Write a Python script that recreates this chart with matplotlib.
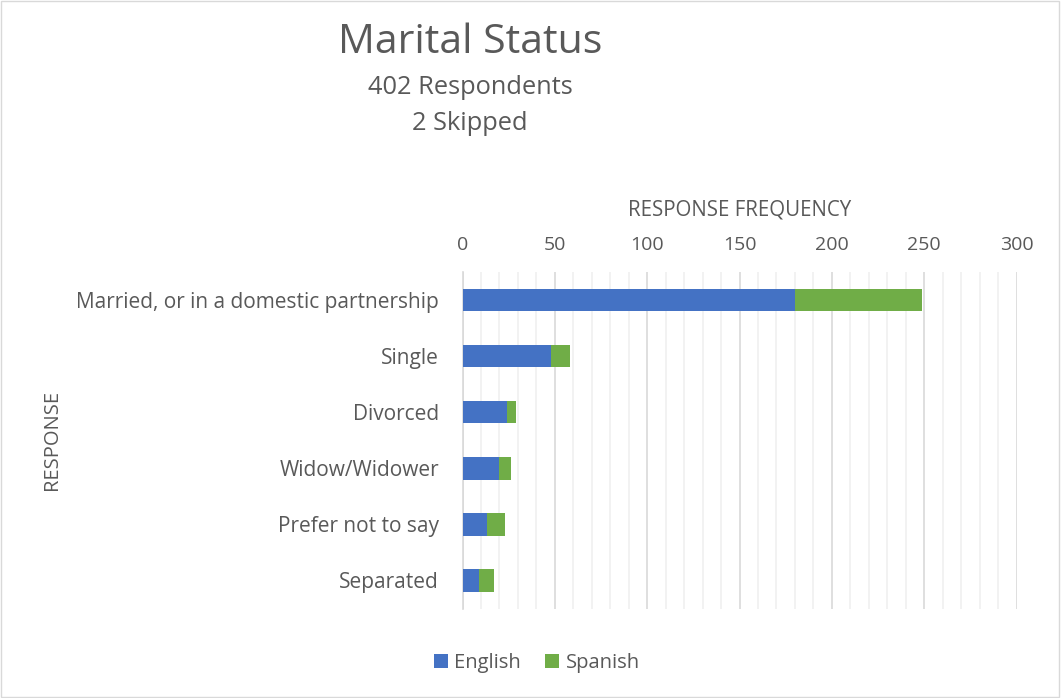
import matplotlib.pyplot as plt
from matplotlib.patches import Rectangle
from matplotlib.ticker import MultipleLocator

# data
categorias = ['Married, or in a domestic partnership', 'Single', 'Divorced',
              'Widow/Widower', 'Prefer not to say', 'Separated']
english = [180, 48, 24, 20, 13, 9]
spanish = [69, 10, 5, 6, 10, 8]

azul = '#4472C4'
verde = '#70AD47'
gris_texto = '#595959'

plt.rcParams['font.family'] = ['Open Sans', 'DejaVu Sans']

fig = plt.figure(figsize=(10.62, 6.98), dpi=100)
ax = fig.add_axes([0.4355, 0.1282, 0.5217, 0.4821])

pos = list(range(len(categorias)))
ax.barh(pos, english, height=0.4, color=azul, label='English', zorder=3)
ax.barh(pos, spanish, left=english, height=0.4, color=verde, label='Spanish', zorder=3)

ax.set_ylim(len(categorias) - 0.5, -0.5)
ax.set_yticks(pos)
ax.set_yticklabels(categorias)
ax.set_xlim(0, 300)
ax.xaxis.set_major_locator(MultipleLocator(50))
ax.xaxis.set_minor_locator(MultipleLocator(10))
ax.xaxis.tick_top()
ax.xaxis.set_label_position('top')

# grid lines
ax.grid(axis='x', which='major', color='#d9d9d9', linewidth=1.2, zorder=0)
ax.grid(axis='x', which='minor', color='#f0f0f0', linewidth=1.2, zorder=0)
ax.set_axisbelow(True)
for s in ['top', 'right', 'bottom']:
    ax.spines[s].set_visible(False)
ax.spines['left'].set_color('#d9d9d9')
ax.spines['left'].set_linewidth(1.2)

ax.tick_params(axis='x', which='both', length=0, pad=13, labelsize=14, labelcolor=gris_texto)
ax.tick_params(axis='y', length=0, pad=17, labelsize=15, labelcolor=gris_texto)

ax.set_xlabel('RESPONSE FREQUENCY', fontsize=14.8, color=gris_texto, labelpad=15)
fig.text(52 / 1062, 1 - 440 / 698, 'RESPONSE', rotation=90, fontsize=14.5,
         color=gris_texto, ha='center', va='center')

# titles
fig.text(470 / 1062, 1 - 43 / 698, 'Marital Status', fontsize=29.5, color=gris_texto,
         ha='center', va='center')
fig.text(470 / 1062, 1 - 88 / 698, '402 Respondents', fontsize=18.3, color=gris_texto,
         ha='center', va='center')
fig.text(470 / 1062, 1 - 123 / 698, '2 Skipped', fontsize=18.3, color=gris_texto,
         ha='center', va='center')

fig.legend(loc='center', bbox_to_anchor=(537 / 1062, 1 - 663 / 698), ncol=2, frameon=False,
           fontsize=14.5, labelcolor=gris_texto, handlelength=0.7, handleheight=0.7,
           handletextpad=0.3, columnspacing=1.2)

# chart area border
fig.patches.append(Rectangle((0.001, 0.002), 0.996, 0.996, transform=fig.transFigure,
                             fill=False, edgecolor='#d9d9d9', linewidth=1))

fig.savefig('out.png', dpi=100)
